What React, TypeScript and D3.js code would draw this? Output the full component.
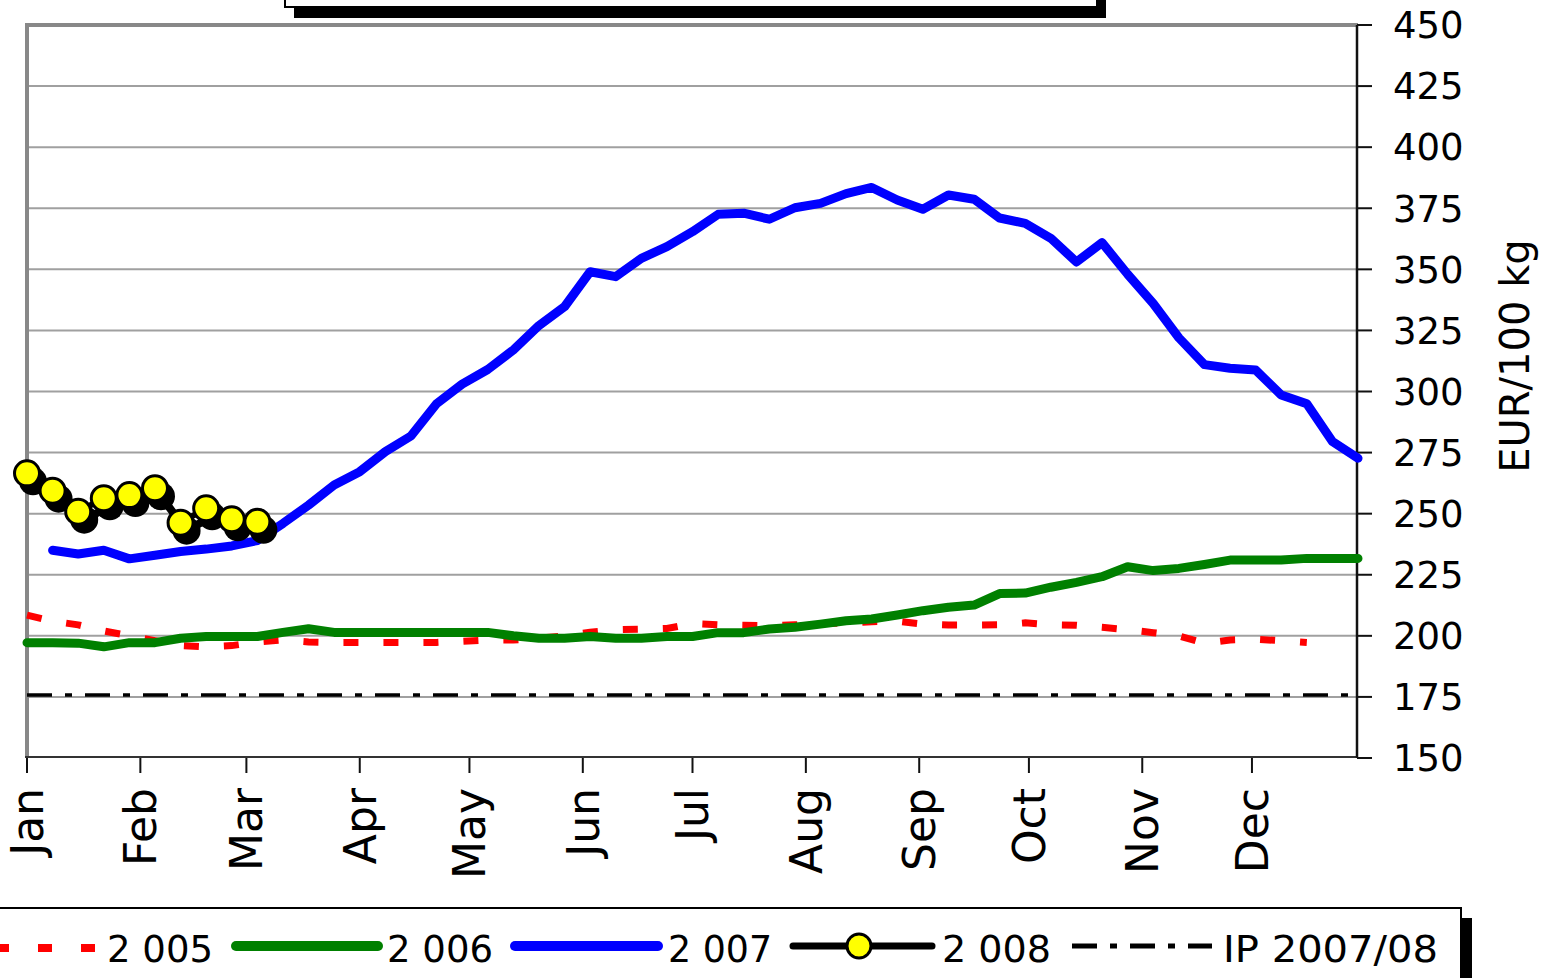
import React from 'react';
import * as d3 from 'd3';

// weekly prices, EUR/100 kg
const months = ['Jan', 'Feb', 'Mar', 'Apr', 'May', 'Jun', 'Jul', 'Aug', 'Sep', 'Oct', 'Nov', 'Dec'];
const monthStartDays = [0, 31, 60, 91, 121, 152, 182, 213, 244, 274, 305, 335];
const yTicks = [150, 175, 200, 225, 250, 275, 300, 325, 350, 375, 400, 425, 450];

// week 0..50
const s2005 = [
  208.5, 206, 204.5, 202, 200, 198, 196, 195.5, 196, 197.5,
  198.3, 197.5, 197.3, 197.3, 197.3, 197.3, 197.3, 197.8, 198.3, 198.3,
  199, 200, 201.5, 202.5, 202.7, 203, 205, 204.5, 204.3, 204.2,
  204.5, 205, 205.2, 205.8, 206, 204.8, 204.4, 204.4, 204.5, 205.3,
  204.5, 204.3, 203.5, 202.5, 201.3, 200, 197, 198.3, 198.6, 198, 197.3,
];
// week 0..52
const s2006 = [
  197.2, 197.2, 197, 195.5, 197.2, 197.2, 199, 199.7, 199.7, 199.7,
  201.4, 202.9, 201.4, 201.4, 201.4, 201.4, 201.4, 201.4, 201.4, 200,
  199, 199, 199.7, 199, 199, 199.7, 199.7, 201.3, 201.3, 202.8,
  203.5, 204.8, 206.2, 206.9, 208.5, 210.3, 211.7, 212.6, 217.3, 217.5,
  219.9, 221.9, 224.2, 228.3, 226.7, 227.6, 229.2, 231, 231, 231,
  231.7, 231.7, 231.7,
];
// week 1..52
const s2007 = [
  235, 233.5, 235, 231.5, 233, 234.5, 235.5, 236.8, 239, 246,
  253.5, 261.7, 267.2, 275.4, 281.8, 295, 303, 309, 317, 327,
  334.7, 349, 347, 354.5, 359.3, 365.4, 372.5, 373, 370.5, 375.2,
  377, 381, 383.5, 378.4, 374.6, 380.4, 378.7, 371, 368.8, 362.7,
  353, 360.9, 348, 336, 322, 311, 309.5, 308.8, 298.6, 295,
  279.5, 272.7,
];
// week 0..9
const s2008 = [266.5, 259.4, 250.8, 256.3, 257.6, 260.4, 246.3, 252.2, 247.7, 246.7];
const ipValue = 175.8;

const W = 1552;
const H = 978;
const plot = { left: 27, right: 1358, top: 25, bottom: 758 };
const font = '"DejaVu Sans", Verdana, sans-serif';
const narrow = '"DejaVu Sans Condensed", "DejaVu Sans", sans-serif';

const x = d3.scaleLinear().domain([0, 364]).range([plot.left, plot.right]);
const y = d3.scaleLinear().domain([150, 450]).range([plot.bottom, plot.top]);

const weekLine = (offset: number) =>
  d3.line<number>()
    .x((_, i) => x((i + offset) * 7))
    .y(d => y(d));

const legendItems = [
  { label: '2 005', x: 107, w: 106 },
  { label: '2 006', x: 387, w: 106 },
  { label: '2 007', x: 668, w: 104 },
  { label: '2 008', x: 942, w: 109 },
  { label: 'IP 2007/08', x: 1223, w: 215 },
];

export default function App() {
  const ipData = d3.range(53).map(() => ipValue);
  const ly = 946;

  return (
    <div style={{ position: 'absolute', left: 0, top: 0 }}>
      <svg width={W} height={H} style={{ display: 'block', background: '#fff', fontFamily: font }}>
        {/* title box, cut off at top */}
        <rect x={294} y={-50} width={812} height={68} fill="#000" />
        <rect x={285} y={-60} width={812} height={67} fill="#fff" stroke="#000" strokeWidth={2} />

        {/* gridlines */}
        {yTicks.filter(t => t > 150 && t < 450).map(t => (
          <line key={t} x1={plot.left} x2={plot.right} y1={y(t)} y2={y(t)} stroke="#a0a0a0" strokeWidth={2} />
        ))}

        {/* frame */}
        <line x1={plot.left} x2={plot.right} y1={plot.top} y2={plot.top} stroke="#888" strokeWidth={4} />
        <line x1={plot.left} x2={plot.left} y1={plot.top - 2} y2={plot.bottom} stroke="#888" strokeWidth={4} />
        <line x1={plot.left - 2} x2={plot.right} y1={plot.bottom - 1} y2={plot.bottom - 1} stroke="#333" strokeWidth={2} />
        <line x1={plot.right - 1} x2={plot.right - 1} y1={plot.top} y2={plot.bottom} stroke="#111" strokeWidth={2.5} />

        {/* x ticks + month labels */}
        {monthStartDays.map((d, i) => (
          <g key={months[i]} transform={`translate(${x(d)},0)`}>
            <line y1={plot.bottom} y2={plot.bottom + 15} stroke="#111" strokeWidth={2} />
            <text
              transform={`translate(0,${plot.bottom + 30}) rotate(-90)`}
              textAnchor="end"
              dy="0.36em"
              fontSize={44}
              fill="#000"
            >
              {months[i]}
            </text>
          </g>
        ))}

        {/* y ticks + labels (right) */}
        {yTicks.map(t => (
          <g key={t} transform={`translate(0,${y(t)})`}>
            <line x1={plot.right - 1} x2={plot.right + 14} stroke="#111" strokeWidth={2} />
            <text x={plot.right + 35} dy="0.36em" fontSize={37} fill="#000">{t}</text>
          </g>
        ))}
        <text
          transform={`translate(1529,356) rotate(-90)`}
          textAnchor="middle"
          fontSize={40}
          fill="#000"
        >
          EUR/100 kg
        </text>

        {/* series */}
        <path d={weekLine(0)(ipData) ?? ''} fill="none" stroke="#000" strokeWidth={3.5} strokeDasharray="25 13 7 13" />
        <path d={weekLine(0)(s2005) ?? ''} fill="none" stroke="#ff0000" strokeWidth={7} strokeDasharray="15 25" />
        <path d={weekLine(0)(s2006) ?? ''} fill="none" stroke="#008000" strokeWidth={9} strokeLinecap="round" strokeLinejoin="round" />
        <path d={weekLine(1)(s2007) ?? ''} fill="none" stroke="#0000ff" strokeWidth={9} strokeLinecap="round" strokeLinejoin="round" />

        {/* 2008 with shadow */}
        <g transform="translate(6,8)">
          <path d={weekLine(0)(s2008) ?? ''} fill="none" stroke="#000" strokeWidth={8} strokeLinejoin="round" />
          {s2008.map((v, i) => (
            <circle key={i} cx={x(i * 7)} cy={y(v)} r={14} fill="#000" />
          ))}
        </g>
        <path d={weekLine(0)(s2008) ?? ''} fill="none" stroke="#000" strokeWidth={6} strokeLinejoin="round" />
        {s2008.map((v, i) => (
          <circle key={i} cx={x(i * 7)} cy={y(v)} r={12.5} fill="#ffff00" stroke="#000" strokeWidth={3} />
        ))}

        {/* legend */}
        <rect x={0} y={918} width={1472} height={100} fill="#000" />
        <rect x={-10} y={908} width={1471} height={100} fill="#fff" stroke="#000" strokeWidth={2} />
        <line x1={-5} x2={95} y1={ly + 2} y2={ly + 2} stroke="#ff0000" strokeWidth={8} strokeDasharray="14 29" />
        <line x1={236} x2={378} y1={ly} y2={ly} stroke="#008000" strokeWidth={10} strokeLinecap="round" />
        <line x1={515} x2={658} y1={ly} y2={ly} stroke="#0000ff" strokeWidth={10} strokeLinecap="round" />
        <line x1={793} x2={932} y1={ly} y2={ly} stroke="#000" strokeWidth={7} strokeLinecap="round" />
        <circle cx={859} cy={ly} r={12} fill="#ffff00" stroke="#000" strokeWidth={3} />
        <line x1={1072} x2={1212} y1={ly} y2={ly} stroke="#000" strokeWidth={5} strokeDasharray="25 13 7 13" />
        {legendItems.map(it => (
          <text
            key={it.label}
            x={it.x}
            y={962}
            fontSize={37}
            fontFamily={narrow}
            textLength={it.w}
            lengthAdjust="spacingAndGlyphs"
            fill="#000"
          >
            {it.label}
          </text>
        ))}
      </svg>
    </div>
  );
}
